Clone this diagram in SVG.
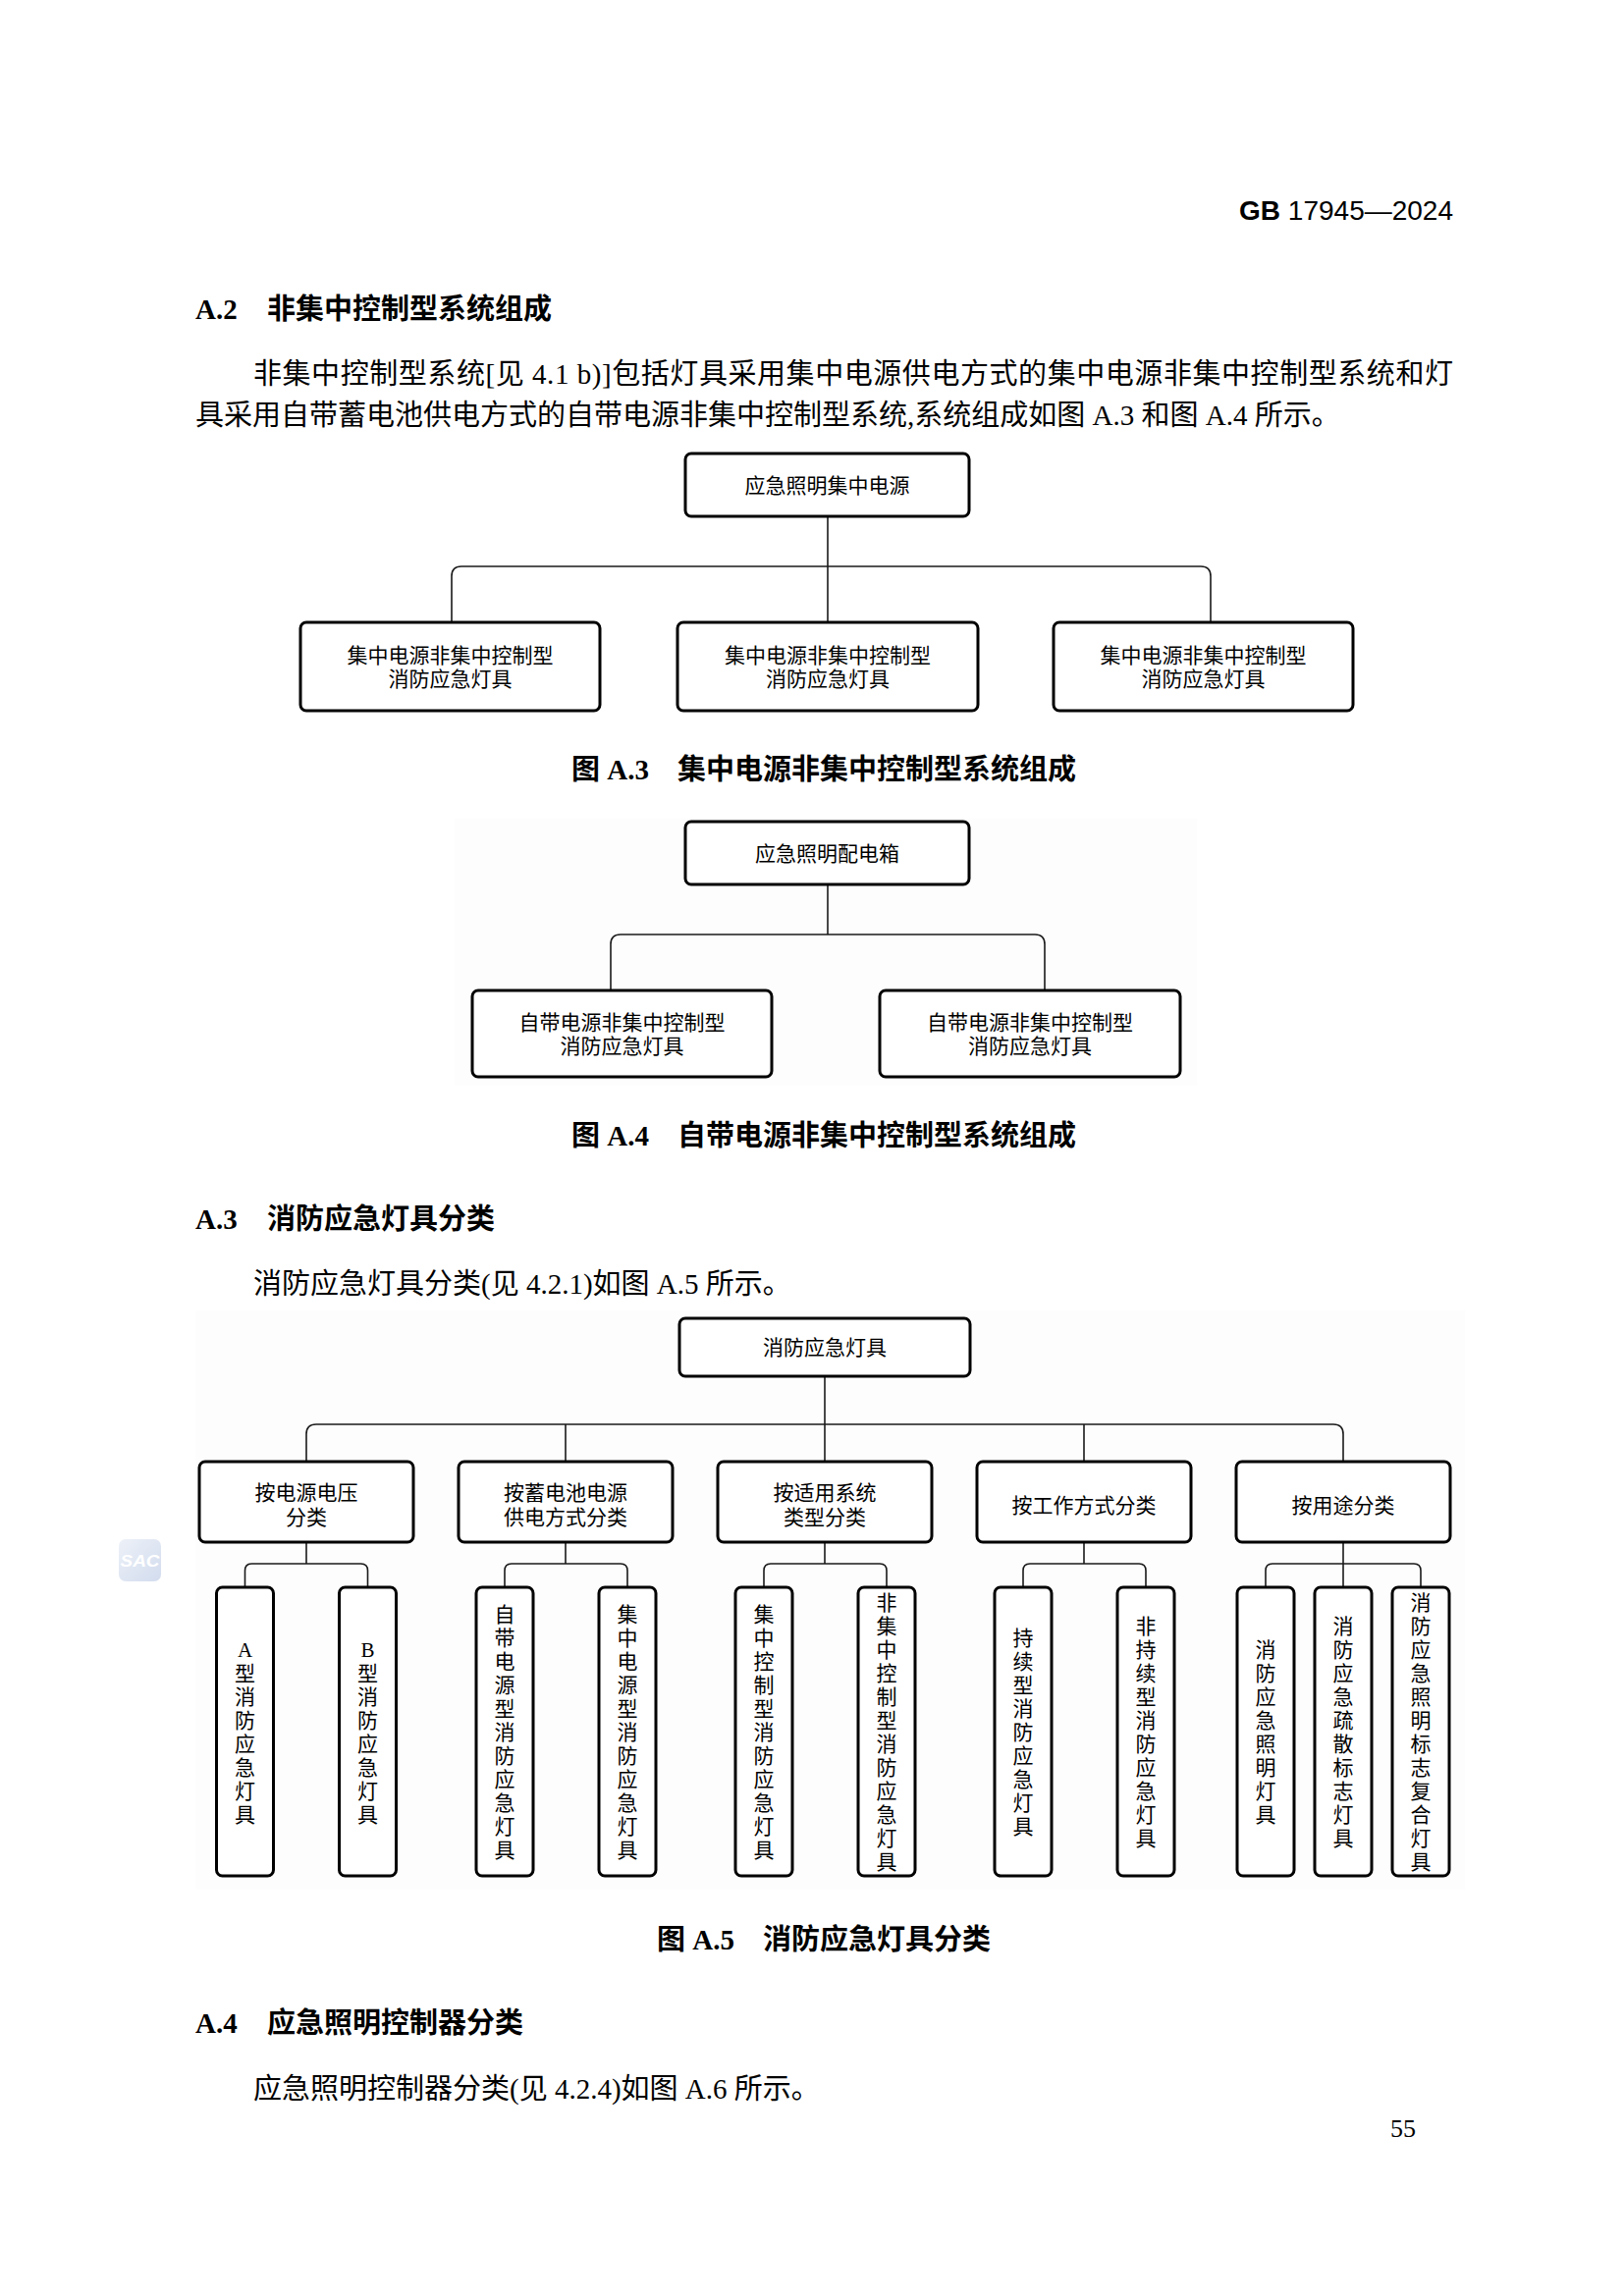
<svg xmlns="http://www.w3.org/2000/svg" width="1654" height="2339" viewBox="0 0 1654 2339">
<defs>
<linearGradient id="wm" x1="0" y1="0" x2="1" y2="1"><stop offset="0" stop-color="#edf1f8"/><stop offset="1" stop-color="#d2dcee"/></linearGradient>
<style>
.box{fill:#fff;stroke:#000;stroke-width:3}
.ln{fill:none;stroke:#1a1a1a;stroke-width:1.6}
.bt{font-family:"Liberation Serif","Noto Sans CJK SC",serif;font-size:21px;text-anchor:middle;fill:#000}
.body{font-family:"Liberation Serif","Noto Sans CJK SC",serif;font-size:29px;fill:#000}
.hd{font-family:"Liberation Serif","Noto Sans CJK SC",sans-serif;font-size:29px;font-weight:bold;fill:#000}
.cap{font-family:"Liberation Serif","Noto Sans CJK SC",sans-serif;font-size:29px;font-weight:bold;fill:#000;text-anchor:middle}
.bg{fill:#fdfdfd}
</style>
</defs>
<rect width="1654" height="2339" fill="#fff"/>
<rect class="bg" x="463" y="834" width="756" height="272"/>
<rect class="bg" x="199" y="1335" width="1293" height="590"/>

<g id="page-text">
<text x="1480" y="224" text-anchor="end" font-family="Liberation Sans, sans-serif" font-size="28"><tspan font-weight="bold">GB</tspan> 17945—2024</text>
<text class="hd" x="199" y="325">A.2</text>
<text class="hd" x="272" y="325">非集中控制型系统组成</text>
<text class="body" x="258" y="391" textLength="1222" lengthAdjust="spacing">非集中控制型系统[见 4.1 b)]包括灯具采用集中电源供电方式的集中电源非集中控制型系统和灯</text>
<text class="body" x="199" y="433">具采用自带蓄电池供电方式的自带电源非集中控制型系统,系统组成如图 A.3 和图 A.4 所示。</text>
<text class="cap" x="839" y="794">图 A.3　集中电源非集中控制型系统组成</text>
<text class="cap" x="839" y="1167">图 A.4　自带电源非集中控制型系统组成</text>
<text class="hd" x="199" y="1252">A.3</text>
<text class="hd" x="272" y="1252">消防应急灯具分类</text>
<text class="body" x="258" y="1318">消防应急灯具分类(见 4.2.1)如图 A.5 所示。</text>
<text class="cap" x="839" y="1986">图 A.5　消防应急灯具分类</text>
<text class="hd" x="199" y="2071">A.4</text>
<text class="hd" x="272" y="2071">应急照明控制器分类</text>
<text class="body" x="258" y="2138">应急照明控制器分类(见 4.2.4)如图 A.6 所示。</text>
<text x="1442" y="2177" text-anchor="end" font-family="Liberation Serif, serif" font-size="26">55</text>
</g>

<g id="watermark">
<rect x="121" y="1568" width="43" height="43" rx="7" fill="url(#wm)"/>
<text x="142.5" y="1596" text-anchor="middle" font-family="Liberation Sans, sans-serif" font-size="16" font-weight="bold" font-style="italic" fill="#fff" textLength="40" lengthAdjust="spacingAndGlyphs">SAC</text>
</g>

<g id="connectors">
<path class="ln" d="M843,526 V634"/>
<path class="ln" d="M460,634 V587 Q460,577 470,577 H1223 Q1233,577 1233,587 V634"/>
<path class="ln" d="M843,901 V952"/>
<path class="ln" d="M622,1009 V962 Q622,952 632,952 H1054 Q1064,952 1064,962 V1009"/>
<path class="ln" d="M840,1402 V1489"/>
<path class="ln" d="M312,1489 V1461 Q312,1451 322,1451 H1358 Q1368,1451 1368,1461 V1489"/>
<path class="ln" d="M576,1451 V1489 M1104,1451 V1489"/>
<path class="ln" d="M312,1571 V1593 M249.5,1617 V1600 Q249.5,1593 256.5,1593 H367.5 Q374.5,1593 374.5,1600 V1617"/>
<path class="ln" d="M576,1571 V1593 M514,1617 V1600 Q514,1593 521,1593 H632 Q639,1593 639,1600 V1617"/>
<path class="ln" d="M840,1571 V1593 M778,1617 V1600 Q778,1593 785,1593 H896 Q903,1593 903,1600 V1617"/>
<path class="ln" d="M1104,1571 V1593 M1042,1617 V1600 Q1042,1593 1049,1593 H1160 Q1167,1593 1167,1600 V1617"/>
<path class="ln" d="M1368,1571 V1617 M1289,1617 V1600 Q1289,1593 1296,1593 H1440 Q1447,1593 1447,1600 V1617"/>
</g>

<g id="a3-root"><rect class="box" x="698" y="462" width="289" height="64" rx="6"/><text class="bt" x="842.5" y="502">应急照明集中电源</text></g>
<g id="a3-n1"><rect class="box" x="306" y="634" width="305" height="90" rx="6"/><text class="bt" x="458.5" y="675">集中电源非集中控制型</text><text class="bt" x="458.5" y="699">消防应急灯具</text></g>
<g id="a3-n2"><rect class="box" x="690" y="634" width="306" height="90" rx="6"/><text class="bt" x="843" y="675">集中电源非集中控制型</text><text class="bt" x="843" y="699">消防应急灯具</text></g>
<g id="a3-n3"><rect class="box" x="1073" y="634" width="305" height="90" rx="6"/><text class="bt" x="1225.5" y="675">集中电源非集中控制型</text><text class="bt" x="1225.5" y="699">消防应急灯具</text></g>

<g id="a4-root"><rect class="box" x="698" y="837" width="289" height="64" rx="6"/><text class="bt" x="842.5" y="877">应急照明配电箱</text></g>
<g id="a4-n1"><rect class="box" x="481" y="1009" width="305" height="88" rx="6"/><text class="bt" x="633.5" y="1049">自带电源非集中控制型</text><text class="bt" x="633.5" y="1073">消防应急灯具</text></g>
<g id="a4-n2"><rect class="box" x="896" y="1009" width="306" height="88" rx="6"/><text class="bt" x="1049" y="1049">自带电源非集中控制型</text><text class="bt" x="1049" y="1073">消防应急灯具</text></g>

<g id="a5-root"><rect class="box" x="692" y="1343" width="296" height="59" rx="6"/><text class="bt" x="840" y="1380">消防应急灯具</text></g>
<g id="a5-m1"><rect class="box" x="203" y="1489" width="218" height="82" rx="6"/><text class="bt" x="312" y="1528">按电源电压</text><text class="bt" x="312" y="1553">分类</text></g>
<g id="a5-m2"><rect class="box" x="467" y="1489" width="218" height="82" rx="6"/><text class="bt" x="576" y="1528">按蓄电池电源</text><text class="bt" x="576" y="1553">供电方式分类</text></g>
<g id="a5-m3"><rect class="box" x="731" y="1489" width="218" height="82" rx="6"/><text class="bt" x="840" y="1528">按适用系统</text><text class="bt" x="840" y="1553">类型分类</text></g>
<g id="a5-m4"><rect class="box" x="995" y="1489" width="218" height="82" rx="6"/><text class="bt" x="1104" y="1541">按工作方式分类</text></g>
<g id="a5-m5"><rect class="box" x="1259" y="1489" width="218" height="82" rx="6"/><text class="bt" x="1368" y="1541">按用途分类</text></g>

<g id="a5-l1"><rect class="box" x="220.5" y="1617" width="58" height="294" rx="6"/><text class="bt" x="249.5 249.5 249.5 249.5 249.5 249.5 249.5 249.5" y="1688 1712 1736 1760 1784 1808 1832 1856">A型消防应急灯具</text></g>
<g id="a5-l2"><rect class="box" x="345.5" y="1617" width="58" height="294" rx="6"/><text class="bt" x="374.5 374.5 374.5 374.5 374.5 374.5 374.5 374.5" y="1688 1712 1736 1760 1784 1808 1832 1856">B型消防应急灯具</text></g>
<g id="a5-l3"><rect class="box" x="485" y="1617" width="58" height="294" rx="6"/><text class="bt" x="514 514 514 514 514 514 514 514 514 514 514" y="1652 1676 1700 1724 1748 1772 1796 1820 1844 1868 1892">自带电源型消防应急灯具</text></g>
<g id="a5-l4"><rect class="box" x="610" y="1617" width="58" height="294" rx="6"/><text class="bt" x="639 639 639 639 639 639 639 639 639 639 639" y="1652 1676 1700 1724 1748 1772 1796 1820 1844 1868 1892">集中电源型消防应急灯具</text></g>
<g id="a5-l5"><rect class="box" x="749" y="1617" width="58" height="294" rx="6"/><text class="bt" x="778 778 778 778 778 778 778 778 778 778 778" y="1652 1676 1700 1724 1748 1772 1796 1820 1844 1868 1892">集中控制型消防应急灯具</text></g>
<g id="a5-l6"><rect class="box" x="874" y="1617" width="58" height="294" rx="6"/><text class="bt" x="903 903 903 903 903 903 903 903 903 903 903 903" y="1640 1664 1688 1712 1736 1760 1784 1808 1832 1856 1880 1904">非集中控制型消防应急灯具</text></g>
<g id="a5-l7"><rect class="box" x="1013" y="1617" width="58" height="294" rx="6"/><text class="bt" x="1042 1042 1042 1042 1042 1042 1042 1042 1042" y="1676 1700 1724 1748 1772 1796 1820 1844 1868">持续型消防应急灯具</text></g>
<g id="a5-l8"><rect class="box" x="1138" y="1617" width="58" height="294" rx="6"/><text class="bt" x="1167 1167 1167 1167 1167 1167 1167 1167 1167 1167" y="1664 1688 1712 1736 1760 1784 1808 1832 1856 1880">非持续型消防应急灯具</text></g>
<g id="a5-l9"><rect class="box" x="1260" y="1617" width="58" height="294" rx="6"/><text class="bt" x="1289 1289 1289 1289 1289 1289 1289 1289" y="1688 1712 1736 1760 1784 1808 1832 1856">消防应急照明灯具</text></g>
<g id="a5-l10"><rect class="box" x="1339" y="1617" width="58" height="294" rx="6"/><text class="bt" x="1368 1368 1368 1368 1368 1368 1368 1368 1368 1368" y="1664 1688 1712 1736 1760 1784 1808 1832 1856 1880">消防应急疏散标志灯具</text></g>
<g id="a5-l11"><rect class="box" x="1418" y="1617" width="58" height="294" rx="6"/><text class="bt" x="1447 1447 1447 1447 1447 1447 1447 1447 1447 1447 1447 1447" y="1640 1664 1688 1712 1736 1760 1784 1808 1832 1856 1880 1904">消防应急照明标志复合灯具</text></g>
</svg>
